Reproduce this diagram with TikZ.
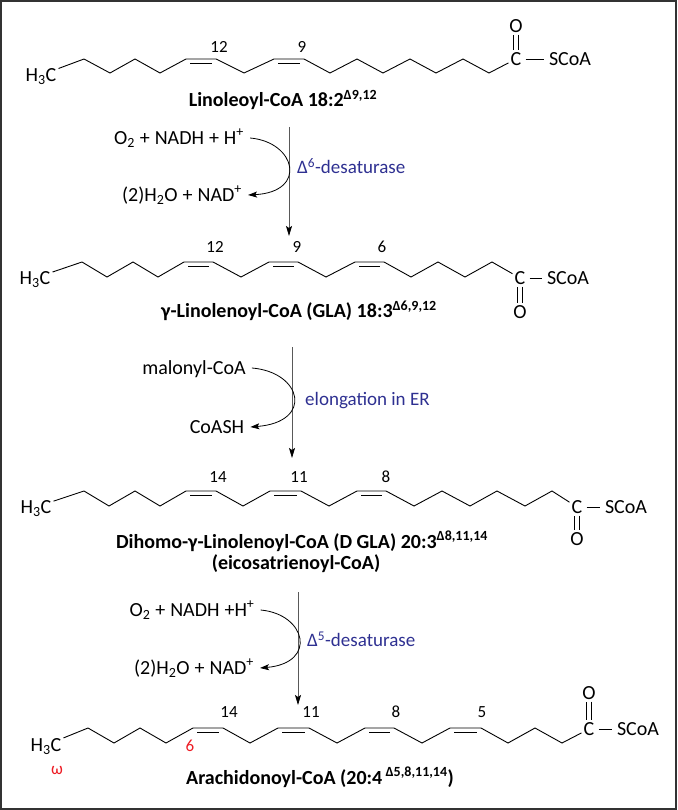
\documentclass[tikz,border=0pt]{standalone}
\usepackage{fontspec}
\setmainfont{Carlito}
\newfontfamily\reagentfont{Carlito}[WordSpace=1.1]
\usetikzlibrary{arrows.meta}
\definecolor{EnzymeClr}{rgb}{0.18,0.19,0.57}
\definecolor{OmegaClr}{rgb}{0.93,0.11,0.14}
\definecolor{FrameClr}{rgb}{0.2,0.2,0.2}
\definecolor{StepClr}{rgb}{0.35,0.35,0.35}

\begin{document}
\begin{tikzpicture}[x=1pt,y=-1pt,
  bond/.style={line width=0.9pt},
  cobond/.style={bond,double,double distance=3.4pt},
  scbond/.style={bond,shorten <=2pt,shorten >=3pt},
  atom/.style={inner sep=2pt,text height=13pt,text depth=0pt,font=\fontsize{20}{22}\selectfont},
  reagent/.style={atom,inner xsep=6pt,font=\reagentfont\fontsize{20}{22}\selectfont},
  enzyme/.style={atom,inner sep=1pt,anchor=west,text=EnzymeClr,font=\fontsize{19}{21}\selectfont},
  num/.style={inner sep=0pt,font=\fontsize{17}{19}\selectfont},
  omega/.style={num,text=OmegaClr},
  molname/.style={inner sep=0pt,font=\fontsize{20}{24}\selectfont\bfseries},
  mainarr/.style={line width=0.8pt,draw=StepClr,-{Stealth[length=10pt,width=6pt,inset=2pt,color=black]}},
  curvearr/.style={line width=0.8pt,-{Stealth[length=9pt,width=6pt,inset=2pt]}}]
\useasboundingbox (0,0) rectangle (677,810);
\draw[FrameClr,line width=1.6pt] (0.8,0.8) rectangle (676.2,809.2);

\node[atom] (h1) at (41,75) {H\textsubscript{3}C};
\node[atom] (c1) at (516,59) {C};
\node[atom] (s1) at (570,59) {SCoA};
\node[atom] (o1) at (516,26) {O};
\draw[scbond] (c1) -- (s1);
\draw[cobond] (o1) -- (c1);
\draw[bond] (h1) -- (84,59) -- (110,73) -- (135,59) -- (160,73) -- (186,59) -- (216,59) -- (244,73) -- (274,59) -- (304,59) -- (330,73) -- (357,59) -- (383,73) -- (410,59) -- (436,73) -- (463,59) -- (489,73) -- (c1);
\draw[bond] (190,63) -- (212,63) (278,63) -- (300,63);
\node[num] at (219,47) {12};
\node[num] at (302,47) {9};
\node[molname] (m1) at (283,100) {Linoleoyl-CoA 18:2\textsuperscript{Δ9,12}};

\coordinate (t1) at (289,127);
\coordinate (b1) at (289,236);
\draw[mainarr] (t1) -- (b1);
\node[reagent] (r1) at (179,138) {O\textsubscript{2} + NADH + H\textsuperscript{+}};
\node[reagent] (p1) at (182,195) {(2)H\textsubscript{2}O + NAD\textsuperscript{+}};
\draw[curvearr] (r1.east) .. controls (296,142) and (308,192) .. (p1.east);
\node[enzyme] (e1) at (296,167) {Δ\textsuperscript{6}-desaturase};

\node[atom] (h2) at (35,278) {H\textsubscript{3}C};
\node[atom] (c2) at (520,278) {C};
\node[atom] (s2) at (568,278) {SCoA};
\node[atom] (o2) at (520,312) {O};
\draw[scbond] (c2) -- (s2);
\draw[cobond] (c2) -- (o2);
\draw[bond] (h2) -- (82,262) -- (107,277) -- (133,262) -- (158,277) -- (184,262) -- (213,262) -- (241,277) -- (269,262) -- (298,262) -- (326,277) -- (355,262) -- (384,262) -- (411,277) -- (438,262) -- (465,277) -- (492,262) -- (c2);
\draw[bond] (188,266) -- (209,266) (273,266) -- (294,266) (359,266) -- (380,266);
\node[num] at (215,247) {12};
\node[num] at (297,247) {9};
\node[num] at (382,247) {6};
\node[molname] (m2) at (299,311) {γ-Linolenoyl-CoA (GLA) 18:3\textsuperscript{Δ6,9,12}};

\coordinate (t2) at (292,347);
\coordinate (b2) at (292,458);
\draw[mainarr] (t2) -- (b2);
\node[reagent] (r2) at (194,368) {malonyl-CoA};
\node[reagent] (p2) at (217,427) {CoASH};
\draw[curvearr] (r2.east) .. controls (302,372) and (314,422) .. (p2.east);
\node[enzyme] (e2) at (304,399) {elongation in ER};

\node[atom] (h3) at (36,507) {H\textsubscript{3}C};
\node[atom] (c3) at (577,507) {C};
\node[atom] (s3) at (626,507) {SCoA};
\node[atom] (o3) at (577,539) {O};
\draw[scbond] (c3) -- (s3);
\draw[cobond] (c3) -- (o3);
\draw[bond] (h3) -- (84,491) -- (109,506) -- (135,491) -- (160,506) -- (186,491) -- (216,491) -- (243,506) -- (270,491) -- (301,491) -- (329,506) -- (357,491) -- (386,491) -- (414,506) -- (442,491) -- (470,506) -- (497,491) -- (525,506) -- (552,491) -- (c3);
\draw[bond] (190,495) -- (212,495) (274,495) -- (297,495) (361,495) -- (382,495);
\node[num] at (218,477) {14};
\node[num] at (299,477) {11};
\node[num] at (386,477) {8};
\node[molname] (m3) at (302,541) {Dihomo-γ-Linolenoyl-CoA (D GLA) 20:3\textsuperscript{Δ8,11,14}};
\node[molname] (m3b) at (296,564) {(eicosatrienoyl-CoA)};

\coordinate (t3) at (298,592);
\coordinate (b3) at (298,705);
\draw[mainarr] (t3) -- (b3);
\node[reagent] (r3) at (192,610) {O\textsubscript{2} + NADH +H\textsuperscript{+}};
\node[reagent] (p3) at (194,668) {(2)H\textsubscript{2}O + NAD\textsuperscript{+}};
\draw[curvearr] (r3.east) .. controls (306,614) and (318,663) .. (p3.east);
\node[enzyme] (e3) at (306,640) {Δ\textsuperscript{5}-desaturase};

\node[atom] (h4) at (46,745) {H\textsubscript{3}C};
\node[atom] (c4) at (589,729) {C};
\node[atom] (s4) at (638,729) {SCoA};
\node[atom] (o4) at (589,693) {O};
\draw[scbond] (c4) -- (s4);
\draw[cobond] (o4) -- (c4);
\draw[bond] (h4) -- (88,728) -- (114,743) -- (140,728) -- (166,743) -- (193,728) -- (223,728) -- (250,743) -- (278,728) -- (309,728) -- (337,743) -- (365,728) -- (394,728) -- (422,743) -- (450,728) -- (481,728) -- (508,743) -- (535,728) -- (562,743) -- (c4);
\draw[bond] (197,732) -- (219,732) (282,732) -- (305,732) (369,732) -- (390,732) (454,732) -- (477,732);
\node[num] at (229,712) {14};
\node[num] at (311,712) {11};
\node[num] at (396,712) {8};
\node[num] at (482,712) {5};
\node[omega] at (190,746) {6};
\node[omega] at (57,770) {ω};
\node[molname] (m4) at (320,777) {Arachidonoyl-CoA (20:4\,\textsuperscript{Δ5,8,11,14})};

\end{tikzpicture}
\end{document}
